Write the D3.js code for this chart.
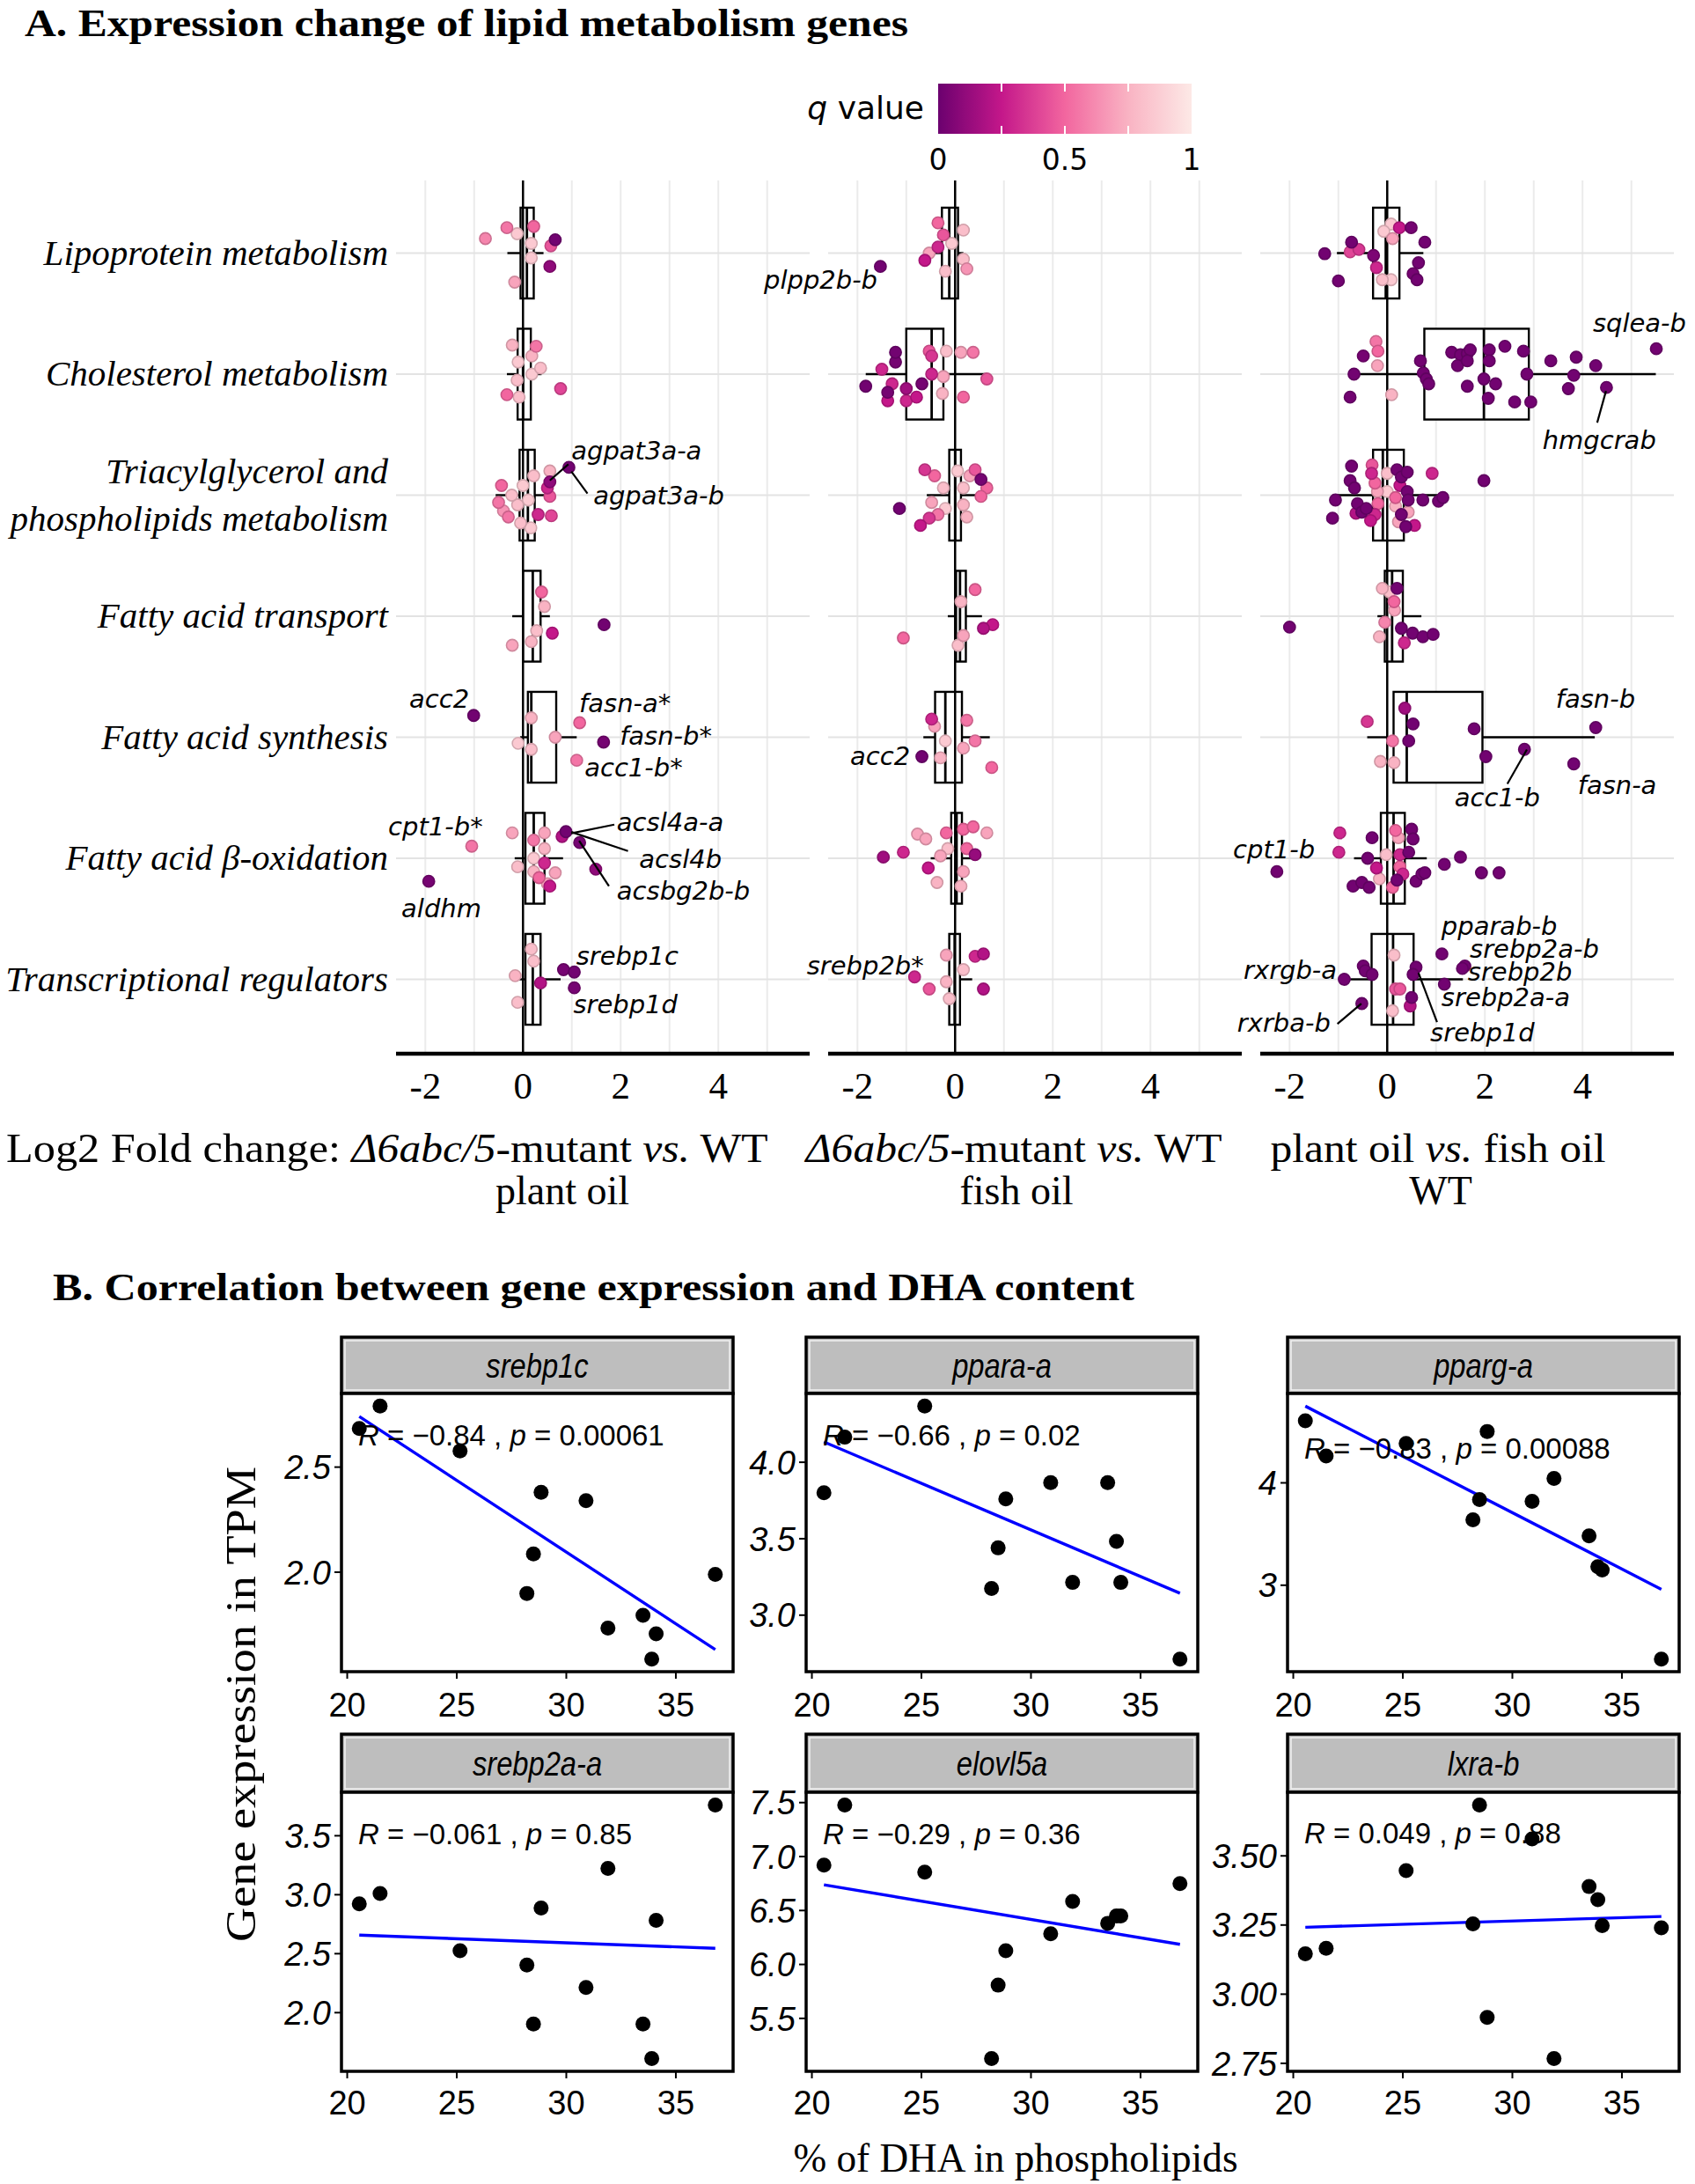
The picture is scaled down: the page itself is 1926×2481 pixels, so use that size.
<!DOCTYPE html>
<html><head><meta charset="utf-8">
<script src="https://cdn.jsdelivr.net/npm/d3@7"></script>
<style>body{margin:0;background:#fff}</style>
</head><body>
<svg id="c" width="1926" height="2481" xmlns="http://www.w3.org/2000/svg"></svg>
<script>
// ================= DATA =================
const categoryLines = [
  ["Lipoprotein metabolism"],
  ["Cholesterol metabolism"],
  ["Triacylglycerol and", "phospholipids metabolism"],
  ["Fatty acid transport"],
  ["Fatty acid synthesis"],
  ["Fatty acid β-oxidation"],
  ["Transcriptional regulators"]
];
const xTicksA = [-2, 0, 2, 4];
const qTicks = [0, 0.5, 1];

// points: [category index, log2 fold change, jitter (in category steps), q value]
const pointsMutPlant = [
 [0,-0.77,-0.12,0.6],[0,-0.33,-0.21,0.55],[0,0.22,-0.22,0.5],[0,0.66,-0.11,0.02],[0,0.57,-0.06,0.45],[0,0.55,0.11,0.1],[0,-0.17,0.24,0.7],[0,0.17,-0.08,0.85],[0,0.17,0.04,0.85],[0,-0.12,-0.16,0.85],
 [1,-0.22,-0.24,0.75],[1,0.27,-0.23,0.55],[1,0.18,-0.15,0.75],[1,0.36,-0.05,0.8],[1,-0.12,0.05,0.8],[1,-0.33,0.17,0.5],[1,0.77,0.12,0.4],[1,-0.08,0.19,0.8],[1,0.18,0,0.85],[1,-0.1,-0.1,0.85],
 [2,0.94,-0.23,0.02],[2,0.55,-0.11,0.1],[2,0.55,-0.2,0.75],[2,0.5,-0.06,0.3],[2,0.55,0.01,0.45],[2,-0.44,-0.08,0.5],[2,-0.5,0.06,0.55],[2,-0.4,0.13,0.65],[2,-0.3,0.18,0.55],[2,0.31,0.16,0.3],[2,0.58,0.17,0.4],[2,0.0,-0.08,0.85],[2,0.11,0.04,0.85],[2,-0.11,0.08,0.8],[2,0.22,-0.16,0.8],[2,-0.05,0.23,0.8],[2,0.16,0.27,0.85],[2,-0.23,0,0.8],
 [3,0.38,-0.2,0.5],[3,0.44,-0.08,0.75],[3,1.66,0.07,0.02],[3,0.6,0.14,0.25],[3,-0.22,0.24,0.7],[3,0.17,0.21,0.75],[3,0.28,0.12,0.8],
 [4,-1.01,-0.18,0.02],[4,1.16,-0.12,0.5],[4,1.65,0.04,0.03],[4,1.1,0.19,0.55],[4,0.66,0,0.7],[4,0.17,-0.16,0.75],[4,0.17,0.1,0.8],[4,-0.1,0.05,0.85],
 [5,-1.05,-0.1,0.55],[5,-1.93,0.19,0.03],[5,0.88,-0.22,0.02],[5,0.8,-0.18,0.2],[5,1.16,-0.13,0.03],[5,1.49,0.09,0.1],[5,0.55,0.23,0.25],[5,-0.22,-0.21,0.7],[5,0.44,-0.21,0.7],[5,0.22,-0.15,0.55],[5,0.44,-0.08,0.75],[5,-0.11,0.07,0.8],[5,0.22,0.11,0.75],[5,0.33,0.16,0.5],[5,0.66,0.12,0.7],[5,0.44,0.04,0.3],[5,0.22,0,0.85],[5,0.5,0.21,0.7],
 [6,0.83,-0.08,0.03],[6,1.05,-0.06,0.02],[6,1.05,0.07,0.03],[6,0.36,0.03,0.2],[6,0.17,-0.25,0.8],[6,0.22,-0.15,0.8],[6,-0.11,0.19,0.8],[6,-0.16,-0.03,0.75]
];
const pointsMutFish = [
 [0,-1.53,0.11,0.02],[0,-0.35,-0.25,0.5],[0,-0.24,-0.15,0.45],[0,-0.35,-0.05,0.3],[0,-0.53,0,0.7],[0,-0.62,0.06,0.25],[0,0.17,-0.19,0.8],[0,0.17,0.05,0.8],[0,0.24,0.13,0.65],[0,-0.2,0.15,0.8],[0,-0.07,-0.08,0.85],
 [1,-1.83,0.1,0.02],[1,-1.22,-0.18,0.02],[1,-1.22,-0.1,0.03],[1,-1.5,-0.04,0.3],[1,-1.29,0.08,0.3],[1,-1.38,0.15,0.03],[1,-1.38,0.22,0.25],[1,-1.0,0.12,0.15],[1,-1.0,0.22,0.3],[1,-0.79,0.19,0.25],[1,-0.68,0.08,0.03],[1,-0.53,-0.19,0.45],[1,-0.48,-0.15,0.35],[1,-0.48,0,0.3],[1,-0.18,-0.19,0.8],[1,-0.24,0.02,0.7],[1,0.12,-0.18,0.7],[1,0.37,-0.18,0.55],[1,0.65,0.04,0.45],[1,0.17,0.19,0.5],[1,-0.26,0.16,0.75],
 [2,-1.14,0.11,0.02],[2,-0.71,0.25,0.25],[2,-0.53,0.19,0.35],[2,-0.62,-0.21,0.35],[2,-0.42,-0.16,0.5],[2,-0.48,0.06,0.7],[2,-0.35,0.16,0.55],[2,0.53,-0.13,0.03],[2,0.65,-0.06,0.5],[2,0.41,-0.21,0.45],[2,0.53,0.01,0.5],[2,0.17,-0.06,0.8],[2,0.24,0.18,0.75],[2,0.17,0.08,0.75],[2,-0.24,-0.06,0.8],[2,-0.2,0.11,0.85],[2,0.3,-0.16,0.7],[2,0.05,-0.2,0.85],
 [3,0.41,-0.22,0.5],[3,0.12,-0.12,0.75],[3,-1.06,0.18,0.5],[3,0.58,0.1,0.2],[3,0.77,0.07,0.25],[3,0.17,0.16,0.7],[3,0.06,0.24,0.8],
 [4,-0.68,0.16,0.02],[4,-0.48,-0.15,0.3],[4,-0.42,-0.09,0.7],[4,-0.3,0.17,0.75],[4,0.17,0.09,0.7],[4,0.24,-0.14,0.55],[4,0.41,0.03,0.55],[4,0.75,0.25,0.5],[4,-0.2,0.03,0.85],
 [5,-1.47,-0.01,0.15],[5,-1.06,-0.05,0.3],[5,-0.55,0.08,0.25],[5,-0.77,-0.2,0.7],[5,-0.6,-0.16,0.7],[5,-0.37,0.2,0.75],[5,-0.3,-0.02,0.7],[5,-0.18,-0.21,0.5],[5,0.17,-0.24,0.5],[5,0.37,-0.26,0.5],[5,0.65,-0.21,0.7],[5,0.41,-0.03,0.12],[5,0.17,0.11,0.7],[5,0.12,0.23,0.75],[5,-0.15,-0.08,0.8],[5,0.24,-0.08,0.5],
 [6,-0.83,-0.02,0.3],[6,-0.53,0.08,0.45],[6,0.41,-0.19,0.3],[6,0.58,-0.21,0.2],[6,0.58,0.08,0.2],[6,-0.18,-0.2,0.7],[6,-0.18,0.02,0.75],[6,-0.12,0.16,0.8],[6,0.17,-0.08,0.8]
];
const pointsPlantFish = [
 [0,-1.28,0.005,0.02],[0,-0.73,-0.09,0.02],[0,-0.58,-0.03,0.35],[0,-0.76,-0.01,0.4],[0,-1.0,0.23,0.02],[0,-0.28,0.02,0.05],[0,-0.22,0.12,0.3],[0,-0.1,0.22,0.8],[0,0.08,-0.24,0.85],[0,0.11,-0.12,0.7],[0,0.25,-0.21,0.25],[0,0.49,-0.21,0.03],[0,0.77,-0.09,0.02],[0,0.64,0.08,0.02],[0,0.53,0.17,0.03],[0,0.61,0.22,0.02],[0,0.08,0.22,0.85],[0,-0.07,-0.18,0.85],
 [1,-0.49,-0.15,0.03],[1,-0.23,-0.27,0.55],[1,-0.19,-0.19,0.5],[1,-0.2,-0.07,0.7],[1,-0.68,0,0.02],[1,-0.76,0.19,0.02],[1,0.09,0.17,0.75],[1,0.68,-0.11,0.02],[1,0.74,-0.01,0.02],[1,0.8,0.04,0.02],[1,0.85,0.08,0.02],[1,1.32,-0.18,0.02],[1,1.5,-0.16,0.02],[1,1.44,-0.07,0.02],[1,1.64,-0.17,0.02],[1,1.7,-0.2,0.02],[1,1.64,-0.11,0.02],[1,1.64,0.1,0.02],[1,1.98,0.04,0.02],[1,2.09,-0.2,0.02],[1,2.09,-0.11,0.02],[1,2.22,0.08,0.02],[1,2.07,0.2,0.02],[1,2.41,-0.23,0.02],[1,2.79,-0.19,0.02],[1,2.86,0,0.02],[1,2.61,0.23,0.02],[1,2.94,0.23,0.02],[1,3.35,-0.11,0.02],[1,3.87,-0.14,0.02],[1,3.82,0.01,0.02],[1,3.71,0.12,0.02],[1,4.27,-0.07,0.02],[1,4.49,0.11,0.02],[1,5.51,-0.21,0.02],
 [2,-0.73,-0.24,0.02],[2,-0.76,-0.12,0.02],[2,-0.67,-0.06,0.02],[2,-1.06,0.04,0.02],[2,-1.12,0.19,0.02],[2,-0.61,0.07,0.02],[2,-0.52,0.14,0.02],[2,-0.64,0.15,0.2],[2,-0.43,0.11,0.02],[2,-0.34,0.21,0.25],[2,-0.31,-0.25,0.45],[2,-0.32,-0.18,0.3],[2,-0.25,-0.1,0.5],[2,-0.2,-0.03,0.7],[2,-0.19,0.07,0.5],[2,-0.25,0.16,0.3],[2,0.2,-0.21,0.02],[2,0.29,-0.15,0.02],[2,0.41,-0.19,0.02],[2,0.26,-0.08,0.25],[2,0.41,-0.03,0.02],[2,0.43,0.04,0.02],[2,0.17,0.02,0.5],[2,0.17,0.09,0.75],[2,0.29,0.16,0.02],[2,0.23,0.22,0.7],[2,0.38,0.26,0.02],[2,0.56,0.25,0.25],[2,0.43,0.14,0.7],[2,0.73,0.04,0.02],[2,1.05,0.05,0.02],[2,1.14,0.02,0.02],[2,0.92,-0.18,0.3],[2,1.98,-0.12,0.02],[2,0.0,-0.03,0.85],[2,0.0,-0.18,0.8],
 [3,-2.0,0.09,0.02],[3,0.29,0.1,0.02],[3,0.35,0.22,0.3],[3,0.52,0.14,0.02],[3,0.73,0.17,0.02],[3,0.94,0.15,0.02],[3,-0.16,0.17,0.75],[3,0.2,-0.23,0.02],[3,-0.1,-0.23,0.75],[3,0.14,-0.12,0.5],[3,0.05,-0.2,0.8],[3,0.15,-0.05,0.7],[3,-0.05,0.05,0.6],
 [4,-0.41,-0.13,0.35],[4,0.11,0.03,0.55],[4,-0.14,0.2,0.75],[4,0.14,0.21,0.75],[4,0.36,-0.24,0.15],[4,0.53,-0.11,0.02],[4,0.44,0.03,0.02],[4,1.78,-0.07,0.02],[4,2.02,0.16,0.02],[4,2.81,0.1,0.02],[4,4.27,-0.08,0.02],[4,3.82,0.22,0.02],
 [5,-2.26,0.11,0.02],[5,-0.97,-0.21,0.3],[5,-0.99,-0.05,0.3],[5,-0.31,-0.17,0.02],[5,-0.4,0,0.02],[5,-0.22,0.08,0.25],[5,-0.7,0.23,0.02],[5,-0.52,0.2,0.02],[5,-0.37,0.24,0.02],[5,-0.16,0.17,0.75],[5,0.17,-0.23,0.5],[5,0.23,-0.17,0.7],[5,0.5,-0.24,0.02],[5,0.53,-0.16,0.02],[5,0.44,-0.05,0.02],[5,0.26,-0.03,0.3],[5,0.32,0.13,0.3],[5,0.2,0.18,0.02],[5,0.26,0.07,0.5],[5,0.59,0.19,0.02],[5,0.71,0.13,0.02],[5,0.77,0.12,0.02],[5,1.17,0.05,0.02],[5,1.5,-0.01,0.02],[5,1.93,0.12,0.02],[5,2.29,0.12,0.02],[5,-0.02,-0.03,0.8],[5,0.11,0.24,0.5],
 [6,-0.88,0,0.02],[6,-0.52,0.2,0.02],[6,-0.49,-0.11,0.02],[6,-0.45,-0.07,0.02],[6,-0.31,-0.04,0.02],[6,0.14,-0.2,0.8],[6,0.11,0.26,0.8],[6,0.17,0.08,0.45],[6,0.26,0.08,0.45],[6,0.59,-0.1,0.02],[6,0.53,-0.04,0.02],[6,0.5,0.15,0.02],[6,0.47,0.22,0.2],[6,1.12,-0.21,0.02],[6,1.59,-0.11,0.02],[6,1.54,-0.09,0.02],[6,1.17,0.04,0.02]
];
// boxplot stats: [category, lower whisker, Q1, median, Q3, upper whisker]
const boxesMutPlant = [[0,-0.32,-0.05,0.08,0.22,0.42],[1,-0.33,-0.11,0.0,0.16,0.38],[2,-0.56,-0.07,0.1,0.24,0.44],[3,-0.22,0.0,0.2,0.36,0.55],[4,-0.06,0.1,0.17,0.68,1.1],[5,-0.17,0.05,0.22,0.44,0.82],[6,-0.1,0.05,0.2,0.36,0.77]];
const boxesMutFish  = [[0,-0.58,-0.27,-0.12,0.06,0.17],[1,-1.83,-1.0,-0.48,-0.24,0.65],[2,-0.58,-0.12,0.0,0.12,0.58],[3,-0.15,0.02,0.1,0.22,0.55],[4,-0.65,-0.41,-0.2,0.14,0.71],[5,-0.5,-0.08,0.03,0.14,0.41],[6,-0.24,-0.12,-0.01,0.1,0.35]];
const boxesPlantFish= [[0,-1.03,-0.29,-0.03,0.25,0.74],[1,-0.63,0.76,1.98,2.9,5.5],[2,-1.12,-0.29,-0.09,0.34,1.17],[3,-0.2,-0.05,0.1,0.32,0.7],[4,-0.41,0.13,0.4,1.95,4.25],[5,-0.68,-0.13,0.13,0.36,0.81],[6,-0.76,-0.32,0.12,0.54,1.55]];

// gene labels: [text, log2FC anchor, category position, anchor side]
const labelsMutPlant = [["agpat3a-a",0.99,1.626,"start"],["agpat3a-b",1.44,2.0,"start"],["acc2",-2.33,3.681,"start"],["fasn-a*",1.15,3.717,"start"],["fasn-b*",1.98,3.986,"start"],["acc1-b*",1.26,4.247,"start"],["cpt1-b*",-2.76,4.734,"start"],["aldhm",-2.49,5.41,"start"],["acsl4a-a",1.92,4.698,"start"],["acsl4b",2.38,5.003,"start"],["acsbg2b-b",1.92,5.264,"start"],["srebp1c",1.09,5.802,"start"],["srebp1d",1.03,6.201,"start"]];
const labelsMutFish = [["plpp2b-b",-1.59,0.217,"end"],["acc2",-0.92,4.153,"end"],["srebp2b*",-0.64,5.882,"end"]];
const labelsPlantFish = [["sqlea-b",4.21,0.573,"start"],["hmgcrab",3.18,1.539,"start"],["fasn-b",3.45,3.681,"start"],["fasn-a",3.9,4.392,"start"],["acc1-b",1.38,4.494,"start"],["cpt1-b",-1.48,4.923,"end"],["pparab-b",1.11,5.56,"start"],["srebp2a-b",1.69,5.745,"start"],["srebp2b",1.65,5.935,"start"],["srebp2a-a",1.11,6.145,"start"],["srebp1d",0.88,6.435,"start"],["rxrgb-a",-1.03,5.919,"end"],["rxrba-b",-1.16,6.354,"end"]];
// leader segments: [x1, cat1, x2, cat2]
const leadersMutPlant = [[0.93,1.744,0.55,1.878],[0.99,1.805,1.32,1.987],[1.87,4.722,0.99,4.794],[0.99,4.783,2.15,4.94],[1.15,4.855,1.76,5.23]];
const leadersMutFish = [];
const leadersPlantFish = [[4.48,1.139,4.3,1.401],[2.86,4.102,2.46,4.385],[0.64,5.947,1.02,6.354],[-0.53,6.201,-1.02,6.368]];

// ----- Part B data -----
const dhaPercent = [20.55, 21.5, 25.15, 28.2, 28.5, 28.85, 30.9, 31.9, 33.5, 33.9, 34.1, 36.8];
const genesB = ["srebp1c", "ppara-a", "pparg-a", "srebp2a-a", "elovl5a", "lxra-b"];
const exprSrebp1c = [2.684, 2.79, 2.577, 1.899, 2.087, 2.38, 2.34, 1.734, 1.795, 1.587, 1.707, 1.99];
const exprPparaA  = [3.80, 4.164, 4.367, 3.174, 3.44, 3.76, 3.867, 3.214, 3.867, 3.483, 3.214, 2.713];
const exprPpargA  = [4.607, 4.262, 4.384, 3.639, 3.836, 4.502, 3.82, 4.043, 3.482, 3.18, 3.148, 2.279];
const exprSrebp2aA= [2.923, 3.011, 2.525, 2.404, 1.904, 2.887, 2.214, 3.223, 1.904, 1.61, 2.783, 3.761];
const exprElovl5a = [6.921, 7.478, 6.856, 5.127, 5.808, 6.127, 6.284, 6.584, 6.381, 6.45, 6.45, 6.75];
const exprLxraB   = [3.146, 3.166, 3.447, 3.254, 3.684, 2.916, 3.561, 2.767, 3.389, 3.342, 3.248, 3.24];
const corrR = ["−0.84", "−0.66", "−0.83", "−0.061", "−0.29", "0.049"];
const corrP = ["0.00061", "0.02", "0.00088", "0.85", "0.36", "0.88"];
const yTickLabelsB = [["2.0","2.5"],["3.0","3.5","4.0"],["3","4"],["2.0","2.5","3.0","3.5"],["5.5","6.0","6.5","7.0","7.5"],["2.75","3.00","3.25","3.50"]];
const xTicksB = [20, 25, 30, 35];

// ================= DRAW =================
const svg = d3.select("#c");
const SERIF = "'Liberation Serif','DejaVu Serif',serif";
const SANS = "'DejaVu Sans',sans-serif";
const ARIAL = "'Liberation Sans',Arial,sans-serif";

// colour scale for q value
const qColor = d3.scaleLinear().domain([0, 0.25, 0.5, 0.75, 1])
  .range(["#6b016f", "#c4178a", "#f2669f", "#f9b3c3", "#fde9e6"]).interpolate(d3.interpolateRgb);

// ---- Titles ----
svg.append("text").attr("x", 28).attr("y", 41).attr("font-family", SERIF).attr("font-weight", "bold")
  .attr("font-size", 45).attr("textLength", 1004).attr("lengthAdjust", "spacingAndGlyphs")
  .text("A. Expression change of lipid metabolism genes");

// ---- Legend ----
const lg = {x0: 1066, x1: 1354, y0: 95, y1: 152};
const qScale = d3.scaleLinear().domain([0, 1]).range([lg.x0, lg.x1]);
const defs = svg.append("defs");
const grad = defs.append("linearGradient").attr("id", "qgrad").attr("x1", "0%").attr("x2", "100%");
d3.range(0, 1.0001, 0.05).forEach(t => grad.append("stop").attr("offset", (t * 100) + "%").attr("stop-color", qColor(t)));
svg.append("rect").attr("x", lg.x0).attr("y", lg.y0).attr("width", lg.x1 - lg.x0).attr("height", lg.y1 - lg.y0).attr("fill", "url(#qgrad)");
[0.25, 0.5, 0.75].forEach(t => {
  svg.append("line").attr("x1", qScale(t)).attr("x2", qScale(t)).attr("y1", lg.y0).attr("y2", lg.y0 + 9).attr("stroke", "#fff").attr("stroke-width", 2);
  svg.append("line").attr("x1", qScale(t)).attr("x2", qScale(t)).attr("y1", lg.y1 - 9).attr("y2", lg.y1).attr("stroke", "#fff").attr("stroke-width", 2);
});
qTicks.forEach(t => svg.append("text").attr("x", qScale(t)).attr("y", 193).attr("text-anchor", "middle")
  .attr("font-family", SANS).attr("font-size", 33).text(t));
const qt = svg.append("text").attr("x", 1050).attr("y", 135).attr("text-anchor", "end").attr("font-family", SANS).attr("font-size", 36);
qt.append("tspan").attr("font-style", "italic").text("q");
qt.append("tspan").text(" value");

// ---- Part A panels ----
const A = {top: 205, bottom: 1195, w: 470, x: [450, 941, 1432]};
const xDomainA = [-2.6, 5.87];
const yA = d3.scalePoint().domain(d3.range(categoryLines.length)).range([A.top, A.bottom]).padding(0.6);
const stepA = yA.step();
const yLin = d3.scaleLinear().domain([0, categoryLines.length - 1]).range([yA(0), yA(categoryLines.length - 1)]);

// category labels
categoryLines.forEach((lines, i) => {
  const t = svg.append("text").attr("text-anchor", "end").attr("font-family", SERIF).attr("font-style", "italic").attr("font-size", 41);
  lines.forEach((ln, k) => {
    t.append("tspan").attr("x", 441).attr("y", yA(i) + 13 + (k - (lines.length - 1) / 2) * 54).text(ln);
  });
});

const panelsA = [
  {pts: pointsMutPlant, boxes: boxesMutPlant, labels: labelsMutPlant, leaders: leadersMutPlant},
  {pts: pointsMutFish, boxes: boxesMutFish, labels: labelsMutFish, leaders: leadersMutFish},
  {pts: pointsPlantFish, boxes: boxesPlantFish, labels: labelsPlantFish, leaders: leadersPlantFish}
];
panelsA.forEach((p, pi) => {
  const x0 = A.x[pi];
  const xs = d3.scaleLinear().domain(xDomainA).range([x0, x0 + A.w]);
  const g = svg.append("g");
  // grid
  d3.range(-2, 6).forEach(v => g.append("line").attr("x1", xs(v)).attr("x2", xs(v)).attr("y1", A.top).attr("y2", A.bottom)
    .attr("stroke", "#ebebeb").attr("stroke-width", 2));
  yA.domain().forEach(c => g.append("line").attr("x1", x0).attr("x2", x0 + A.w).attr("y1", yA(c)).attr("y2", yA(c))
    .attr("stroke", "#e3e3e3").attr("stroke-width", 2.2));
  // boxes
  const half = 0.375 * stepA;
  p.boxes.forEach(b => {
    const [c, lo, q1, med, q3, hi] = b;
    const cy = yA(c);
    g.append("line").attr("x1", xs(lo)).attr("x2", xs(q1)).attr("y1", cy).attr("y2", cy).attr("stroke", "#000").attr("stroke-width", 2.4);
    g.append("line").attr("x1", xs(q3)).attr("x2", xs(hi)).attr("y1", cy).attr("y2", cy).attr("stroke", "#000").attr("stroke-width", 2.4);
    g.append("rect").attr("x", xs(q1)).attr("y", cy - half).attr("width", xs(q3) - xs(q1)).attr("height", 2 * half)
      .attr("fill", "#fff").attr("stroke", "#000").attr("stroke-width", 2.4);
    g.append("line").attr("x1", xs(med)).attr("x2", xs(med)).attr("y1", cy - half).attr("y2", cy + half).attr("stroke", "#000").attr("stroke-width", 2.8);
  });
  // zero line
  g.append("line").attr("x1", xs(0)).attr("x2", xs(0)).attr("y1", A.top).attr("y2", A.bottom).attr("stroke", "#000").attr("stroke-width", 2.5);
  // points (lighter first so dark ones are visible)
  const sorted = p.pts.slice().sort((a, b) => b[3] - a[3]);
  g.selectAll("circle.pt").data(sorted).join("circle").attr("class", "pt")
    .attr("cx", d => xs(d[1])).attr("cy", d => yA(d[0]) + d[2] * stepA).attr("r", 6.6)
    .attr("fill", d => qColor(d[3])).attr("stroke", d => d3.color(qColor(d[3])).darker(0.5)).attr("stroke-width", 1.6);
  // leaders
  p.leaders.forEach(s => g.append("line").attr("x1", xs(s[0])).attr("y1", yLin(s[1])).attr("x2", xs(s[2])).attr("y2", yLin(s[3]))
    .attr("stroke", "#000").attr("stroke-width", 2.2));
  // labels
  p.labels.forEach(l => g.append("text").attr("x", xs(l[1])).attr("y", yLin(l[2])).attr("dy", "0.36em")
    .attr("text-anchor", l[3]).attr("font-family", SANS).attr("font-style", "italic").attr("font-size", 29).text(l[0]));
  // axis line & ticks
  g.append("line").attr("x1", x0).attr("x2", x0 + A.w).attr("y1", A.bottom + 2).attr("y2", A.bottom + 2).attr("stroke", "#000").attr("stroke-width", 4.5);
  xTicksA.forEach(v => g.append("text").attr("x", xs(v)).attr("y", 1248).attr("text-anchor", "middle")
    .attr("font-family", SERIF).attr("font-size", 43).text(v));
});

// comparison titles
svg.append("text").attr("x", 7).attr("y", 1320).attr("font-family", SERIF).attr("font-size", 46)
  .attr("textLength", 380).attr("lengthAdjust", "spacingAndGlyphs").text("Log2 Fold change:");
function compTitle(cx, parts, width) {
  const t = svg.append("text").attr("x", cx).attr("y", 1320).attr("text-anchor", "middle").attr("font-family", SERIF).attr("font-size", 46)
    .attr("textLength", width).attr("lengthAdjust", "spacingAndGlyphs");
  parts.forEach(([s, it]) => t.append("tspan").attr("font-style", it ? "italic" : "normal").text(s));
}
compTitle(636, [["Δ6abc/5", 1], ["-mutant ", 0], ["vs.", 1], [" WT", 0]], 473);
compTitle(1152, [["Δ6abc/5", 1], ["-mutant ", 0], ["vs.", 1], [" WT", 0]], 473);
compTitle(1634, [["plant oil ", 0], ["vs.", 1], [" fish oil", 0]], 381);
[["plant oil", 639], ["fish oil", 1155], ["WT", 1637]].forEach(([s, x]) =>
  svg.append("text").attr("x", x).attr("y", 1368).attr("text-anchor", "middle").attr("font-family", SERIF).attr("font-size", 46).text(s));

// ================= Part B =================
svg.append("text").attr("x", 60).attr("y", 1477).attr("font-family", SERIF).attr("font-weight", "bold")
  .attr("font-size", 45).attr("textLength", 1229).attr("lengthAdjust", "spacingAndGlyphs")
  .text("B. Correlation between gene expression and DHA content");

const exprAll = [exprSrebp1c, exprPparaA, exprPpargA, exprSrebp2aA, exprElovl5a, exprLxraB];
const Bcols = [388, 916, 1463], Bw = 445;
const Brows = [{strip: 1519, top: 1583, bottom: 1899, tick: 1950}, {strip: 1970, top: 2036, bottom: 2353, tick: 2402}];
const corLabelOffset = [47, 47, 62, 47, 47, 46];
const xExt = d3.extent(dhaPercent), xPad = (xExt[1] - xExt[0]) * 0.05;

genesB.forEach((gene, gi) => {
  const col = gi % 3, row = Math.floor(gi / 3);
  const x0 = Bcols[col], R = Brows[row];
  const ys = exprAll[gi];
  // linear regression
  const mx = d3.mean(dhaPercent), my = d3.mean(ys);
  const slope = d3.sum(dhaPercent, (x, i) => (x - mx) * (ys[i] - my)) / d3.sum(dhaPercent, x => (x - mx) ** 2);
  const icpt = my - slope * mx;
  const fitEnds = xExt.map(x => icpt + slope * x);
  const yExt = d3.extent(ys.concat(fitEnds)), yPad = (yExt[1] - yExt[0]) * 0.05;
  const xs = d3.scaleLinear().domain([xExt[0] - xPad, xExt[1] + xPad]).range([x0, x0 + Bw]);
  const yS = d3.scaleLinear().domain([yExt[0] - yPad, yExt[1] + yPad]).range([R.bottom, R.top]);
  const g = svg.append("g");
  // strip
  g.append("rect").attr("x", x0).attr("y", R.strip).attr("width", Bw).attr("height", R.top - R.strip)
    .attr("fill", "#bebebe").attr("stroke", "#000").attr("stroke-width", 3.5);
  g.append("rect").attr("x", x0 + 4).attr("y", R.strip + 4).attr("width", Bw - 8).attr("height", R.top - R.strip - 8)
    .attr("fill", "none").attr("stroke", "#f2f2f2").attr("stroke-width", 1.5);
  const st = g.append("text").attr("x", x0 + Bw / 2).attr("y", (R.strip + R.top) / 2).attr("dy", "0.36em").attr("text-anchor", "middle")
    .attr("font-family", ARIAL).attr("font-style", "italic").attr("font-size", 38).text(gene);
  st.attr("textLength", st.node().getComputedTextLength() * 0.86).attr("lengthAdjust", "spacingAndGlyphs");
  // frame
  g.append("rect").attr("x", x0).attr("y", R.top).attr("width", Bw).attr("height", R.bottom - R.top)
    .attr("fill", "#fff").attr("stroke", "#000").attr("stroke-width", 3.5);
  // x ticks
  xTicksB.forEach(v => {
    g.append("line").attr("x1", xs(v)).attr("x2", xs(v)).attr("y1", R.bottom).attr("y2", R.bottom + 8).attr("stroke", "#000").attr("stroke-width", 2);
    g.append("text").attr("x", xs(v)).attr("y", R.tick).attr("text-anchor", "middle").attr("font-family", ARIAL).attr("font-size", 38).text(v);
  });
  // y ticks
  yTickLabelsB[gi].forEach(lbl => {
    const v = +lbl;
    g.append("line").attr("x1", x0 - 8).attr("x2", x0).attr("y1", yS(v)).attr("y2", yS(v)).attr("stroke", "#000").attr("stroke-width", 2);
    g.append("text").attr("x", x0 - 12).attr("y", yS(v)).attr("dy", "0.36em").attr("text-anchor", "end")
      .attr("font-family", ARIAL).attr("font-style", "italic").attr("font-size", 38).text(lbl);
  });
  // regression line
  g.append("line").attr("x1", xs(xExt[0])).attr("y1", yS(fitEnds[0])).attr("x2", xs(xExt[1])).attr("y2", yS(fitEnds[1]))
    .attr("stroke", "#0000ff").attr("stroke-width", 3.4);
  // points
  g.selectAll("circle").data(dhaPercent).join("circle").attr("cx", d => xs(d)).attr("cy", (d, i) => yS(ys[i])).attr("r", 8.5).attr("fill", "#000");
  // correlation label
  const t = g.append("text").attr("x", x0 + 19).attr("y", R.top + corLabelOffset[gi]).attr("dy", "0.36em")
    .attr("font-family", ARIAL).attr("font-size", 33);
  t.append("tspan").attr("font-style", "italic").text("R");
  t.append("tspan").text(" = " + corrR[gi] + " , ");
  t.append("tspan").attr("font-style", "italic").text("p");
  t.append("tspan").text(" = " + corrP[gi]);
});

// axis titles
svg.append("text").attr("transform", "translate(290,1936) rotate(-90)").attr("text-anchor", "middle")
  .attr("font-family", SERIF).attr("font-size", 48).attr("textLength", 540).attr("lengthAdjust", "spacingAndGlyphs")
  .text("Gene expression in TPM");
svg.append("text").attr("x", 1154).attr("y", 2467).attr("text-anchor", "middle").attr("font-family", SERIF).attr("font-size", 46)
  .attr("textLength", 505).attr("lengthAdjust", "spacingAndGlyphs").text("% of DHA  in phospholipids");
</script>
</body></html>
